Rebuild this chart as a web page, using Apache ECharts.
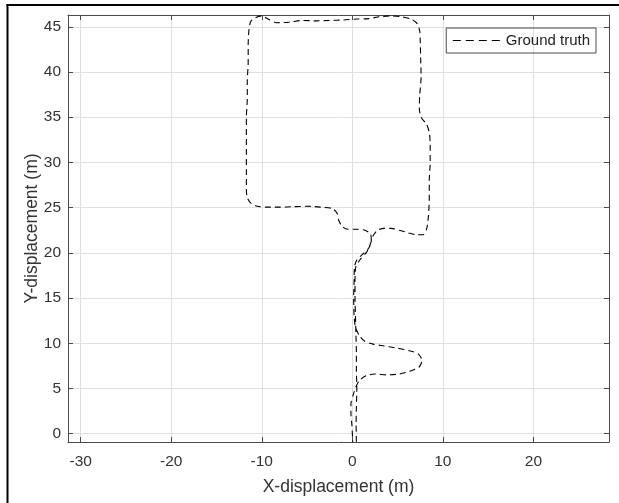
<!DOCTYPE html>
<html>
<head>
<meta charset="utf-8">
<script src="https://cdn.jsdelivr.net/npm/echarts@6/dist/echarts.min.js"></script>
<style>
  html, body { margin: 0; padding: 0; background: #fff; }
  #main { width: 619px; height: 503px; }
</style>
</head>
<body>
<div id="main"></div>
<script>
// ground truth trajectory (metres)
var pathX = [0.45, 0.42, 0.45, 0.5, 0.45, 0.45, 0.4, 0.35, 0.3, 0.3, 0.4, 0.9, 1.6, 2.0, 2.3, 2.8, 3.5, 4.3, 5.2, 6.2, 7.1, 7.8, 8.2,
    8.4, 8.5, 8.5, 8.6, 8.6, 8.5, 8.2, 7.6, 7.4, 7.45, 7.6, 7.55, 7.5, 7.45, 7.2, 6.6, 5.5, 4.2, 3.0, 1.8, 0.5, -1, -2.5, -4, -5.5,
    -7, -8.4, -9.2, -10, -10.7, -11.2, -11.4, -11.5, -11.5, -11.6, -11.6, -11.7, -11.7, -11.7, -11.7, -11.7, -11.6, -11.2, -10.5,
    -9.5, -8, -6.5, -5, -3.5, -2.2, -1.7, -1.5, -1.1, -0.5, 0.5, 1.4, 2.0, 2.1, 1.8, 1.1, 0.5, 0.25, 0.2, 0.15, 0.2, 0.35, 0.8, 1.4,
    2.3, 3.5, 5, 6.4, 7.3, 7.7, 7.4, 6.5, 5.2, 3.8, 2.5, 1.5, 0.8, 0.4, 0.1, -0.15, -0.15, -0.05, 0.05];
var pathY = [-0.9, 1, 3, 5, 7, 9, 11, 13, 15, 17, 18.5, 19.3, 20.1, 21.0, 21.9, 22.5, 22.7, 22.7, 22.5, 22.2, 22.0, 22.0, 22.6,
    24, 26, 28, 30, 32, 33.3, 34.2, 35.0, 36, 37.5, 39.5, 41.5, 43.5, 44.5, 45.3, 45.8, 46.1, 46.2, 46.1, 45.9, 45.85, 45.75, 45.7,
    45.65, 45.7, 45.5, 45.45, 45.8, 46.2, 46.0, 45.6, 44.8, 43, 41, 39, 37, 35, 33, 31, 29, 27, 26.1, 25.5, 25.15, 25.05, 25.05,
    25.1, 25.15, 25.05, 24.9, 24.4, 23.6, 22.9, 22.6, 22.6, 22.5, 22.1, 21.4, 20.5, 19.8, 19.2, 18.5, 17, 15, 13, 11.8, 10.8, 10.2,
    9.9, 9.7, 9.45, 9.15, 8.8, 8.1, 7.4, 6.95, 6.6, 6.5, 6.6, 6.4, 5.9, 5.2, 4.3, 3.3, 2.2, 1, -0.9];

var xTicks = [-30, -20, -10, 0, 10, 20];
var yTicks = [0, 5, 10, 15, 20, 25, 30, 35, 40, 45];
var xRange = [-31.4, 28.35];
var yRange = [-0.92, 46.3];

var pts = pathX.map(function (x, i) { return [x, pathY[i]]; });

var axisCol = '#4a4a4a';
var textCol = '#333';
var font = 'Liberation Sans, Arial, sans-serif';

var myChart = echarts.init(document.getElementById('main'));
myChart.setOption({
    backgroundColor: '#fff',
    animation: false,
    grid: { left: 68, right: 10, top: 15, bottom: 61, outerBoundsMode: 'none' },
    legend: {
        data: ['Ground truth'],
        right: 23,
        top: 28,
        orient: 'vertical',
        borderColor: axisCol,
        borderWidth: 1,
        padding: [5, 6, 5, 6],
        itemWidth: 48,
        itemHeight: 10,
        itemGap: 0,
        itemStyle: { opacity: 0 },
        lineStyle: { type: [8, 5], width: 1.1, color: '#000' },
        textStyle: { fontSize: 15, color: '#222', fontFamily: font }
    },
    xAxis: [{
        type: 'value',
        min: xRange[0], max: xRange[1],
        position: 'bottom',
        name: 'X-displacement (m)',
        nameLocation: 'middle',
        nameGap: 36,
        nameTextStyle: { fontSize: 17.5, color: textCol, fontFamily: font },
        axisLine: { show: true, onZero: false, lineStyle: { color: axisCol, width: 1 } },
        axisTick: { show: true, inside: true, length: 5, customValues: xTicks, lineStyle: { color: axisCol } },
        axisLabel: { customValues: xTicks, fontSize: 15.5, color: textCol, fontFamily: font, margin: 12 },
        splitLine: { show: true, lineStyle: { color: '#e0e0e0', width: 1 } }
    }, {
        type: 'value',
        min: xRange[0], max: xRange[1],
        position: 'top',
        axisLine: { show: true, onZero: false, lineStyle: { color: axisCol, width: 1 } },
        axisTick: { show: true, inside: true, length: 5, customValues: xTicks, lineStyle: { color: axisCol } },
        axisLabel: { show: false },
        splitLine: { show: false }
    }],
    yAxis: [{
        type: 'value',
        min: yRange[0], max: yRange[1],
        position: 'left',
        name: 'Y-displacement (m)',
        nameLocation: 'middle',
        nameGap: 27,
        nameMoveOverlap: false,
        nameTextStyle: { fontSize: 17.5, color: textCol, fontFamily: font },
        axisLine: { show: true, onZero: false, lineStyle: { color: axisCol, width: 1 } },
        axisTick: { show: true, inside: true, length: 5, customValues: yTicks, lineStyle: { color: axisCol } },
        axisLabel: { customValues: yTicks, fontSize: 15.5, color: textCol, fontFamily: font, margin: 7 },
        splitLine: { show: true, lineStyle: { color: '#e0e0e0', width: 1 } }
    }, {
        type: 'value',
        min: yRange[0], max: yRange[1],
        position: 'right',
        axisLine: { show: true, onZero: false, lineStyle: { color: axisCol, width: 1 } },
        axisTick: { show: true, inside: true, length: 5, customValues: yTicks, lineStyle: { color: axisCol } },
        axisLabel: { show: false },
        splitLine: { show: false }
    }],
    graphic: [
        { type: 'line', shape: { x1: 7.5, y1: 4, x2: 7.5, y2: 503 }, style: { stroke: '#000', lineWidth: 2 }, silent: true },
        { type: 'line', shape: { x1: 6.5, y1: 5, x2: 619, y2: 5 }, style: { stroke: '#000', lineWidth: 2 }, silent: true }
    ],
    series: [{
        name: 'Ground truth',
        type: 'line',
        data: pts,
        smooth: 0.25,
        showSymbol: false,
        symbol: 'none',
        lineStyle: { color: '#000', width: 1.1, type: [6, 4] },
        itemStyle: { color: '#000' }
    }]
});
</script>
</body>
</html>
